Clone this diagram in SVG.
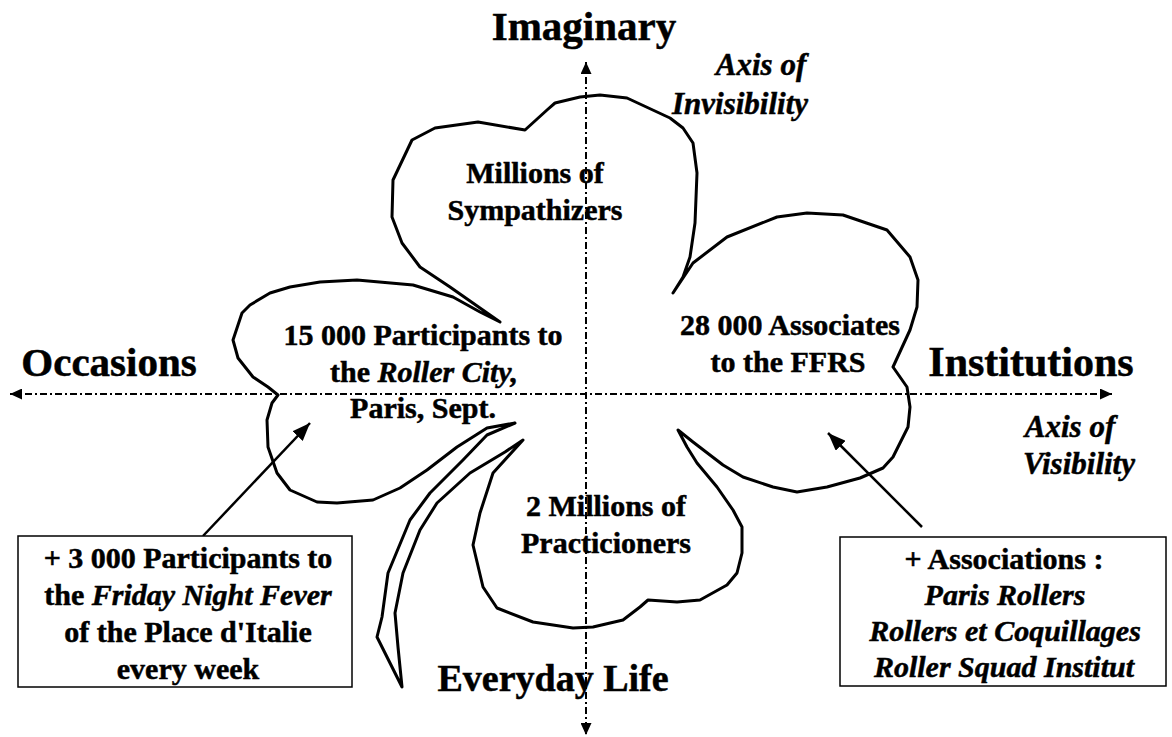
<svg xmlns="http://www.w3.org/2000/svg" width="1172" height="737" viewBox="0 0 1172 737">
<style>
text{font-family:"Liberation Serif","Times New Roman",serif;font-weight:bold;fill:#000;stroke:#000;stroke-width:0.5;text-anchor:middle}
.axl{font-size:41px}
.ax{font-size:31px;font-style:italic;font-weight:bold}
.nd{font-size:30px}
.it{font-style:italic;font-weight:bold}
.axis{stroke:#000;stroke-width:2;stroke-dasharray:7 3 2 3;fill:none}
.clover{fill:#fff;stroke:#000;stroke-width:3;stroke-linejoin:round}
.box{fill:#fff;stroke:#000;stroke-width:1.5}
.arr{stroke:#000;stroke-width:2.5;fill:none}
</style>
<defs>
<marker id="ah" viewBox="0 0 12 11" refX="12" refY="5.5" markerWidth="12" markerHeight="11" markerUnits="userSpaceOnUse" orient="auto-start-reverse"><path d="M0,0 L12,5.5 L0,11 Z" fill="#000"/></marker>
<marker id="big" viewBox="0 0 18 14" refX="18" refY="7" markerWidth="18" markerHeight="14" markerUnits="userSpaceOnUse" orient="auto"><path d="M0,0 L18,7 L0,14 Z" fill="#000"/></marker>
</defs>
<rect width="1172" height="737" fill="#fff"/>
<g id="clover">
<path class="clover" d="M500,322 L450,287 L420,267 L402,243 L392,217 L393,180 L412,140 L435,128 L478,122 L525,130 L547,110 L555,103 L580,97 L600,95 L627,98 L670,118 L683,128 L693,143 L697,173 L695,223 L690,257 L683,277 L673,293 L693,263 L727,237 L777,217 L807,213 L843,215 L887,230 L910,257 L918,280 L917,307 L910,330 L893,367 L907,387 L910,407 L908,427 L893,457 L883,468 L860,478 L827,487 L797,492 L773,487 L743,477 L723,465 L693,442 L678,430 L687,447 L697,463 L717,487 L733,510 L742,527 L742,553 L737,573 L727,585 L700,600 L677,602 L648,600 L640,607 L623,620 L593,627 L573,628 L533,622 L497,608 L483,587 L473,545 L480,513 L493,473 L523,440 L505,452 L470,473 L437,503 L420,530 L403,573 L395,613 L398,647 L402,687 L377,637 L382,617 L388,573 L410,520 L430,493 L463,460 L487,435 L515,423 L487,428 L457,447 L427,470 L400,488 L373,500 L337,503 L317,502 L290,490 L277,473 L268,447 L267,420 L272,403 L278,395 L268,387 L253,377 L238,358 L233,340 L242,313 L250,305 L270,293 L290,287 L320,282 L357,280 L413,285 L453,297 L480,312 Z"/>
</g>
<g id="connectors">
<line class="axis" x1="10" y1="394" x2="1112" y2="394" marker-start="url(#ah)" marker-end="url(#ah)"/>
<line class="axis" x1="586" y1="62" x2="586" y2="735" marker-start="url(#ah)" marker-end="url(#ah)"/>
<line class="arr" x1="203" y1="536" x2="310" y2="423" marker-end="url(#big)"/>
<line class="arr" x1="922" y1="527" x2="828" y2="433" marker-end="url(#big)"/>
</g>
<g id="axis-labels">
<text class="axl" x="584" y="40">Imaginary</text>
<text class="axl" x="109" y="376">Occasions</text>
<text class="axl" x="1031" y="376" style="font-size:42px">Institutions</text>
<text class="axl" x="553" y="691" style="font-size:38px">Everyday Life</text>
<text class="ax" x="761" y="75">Axis of</text>
<text class="ax" x="740" y="114">Invisibility</text>
<text class="ax" x="1070" y="437">Axis of</text>
<text class="ax" x="1079" y="474">Visibility</text>
</g>
<g id="node-sympathizers">
<text class="nd" x="535" y="183">Millions of</text>
<text class="nd" x="535" y="220">Sympathizers</text>
</g>
<g id="node-rollercity">
<text class="nd" x="423" y="345">15 000 Participants to</text>
<text class="nd" x="424" y="382">the <tspan class="it">Roller City,</tspan></text>
<text class="nd" x="423" y="418">Paris, Sept.</text>
</g>
<g id="node-ffrs">
<text class="nd" x="790" y="335">28 000 Associates</text>
<text class="nd" x="788" y="372">to the FFRS</text>
</g>
<g id="node-practicioners">
<text class="nd" x="606" y="516">2 Millions of</text>
<text class="nd" x="606" y="553">Practicioners</text>
</g>
<g id="node-friday">
<rect class="box" x="18" y="536" width="334" height="151"/>
<text class="nd" x="188" y="568">+ 3 000 Participants to</text>
<text class="nd" x="188" y="605">the <tspan class="it">Friday Night Fever</tspan></text>
<text class="nd" x="188" y="642">of the Place d'Italie</text>
<text class="nd" x="188" y="679">every week</text>
</g>
<g id="node-associations">
<rect class="box" x="840" y="537" width="326" height="149"/>
<text class="nd" x="1004" y="569">+ Associations :</text>
<text class="nd it" x="1005" y="605">Paris Rollers</text>
<text class="nd it" x="1005" y="641">Rollers et Coquillages</text>
<text class="nd it" x="1004" y="677">Roller Squad Institut</text>
</g>
</svg>
